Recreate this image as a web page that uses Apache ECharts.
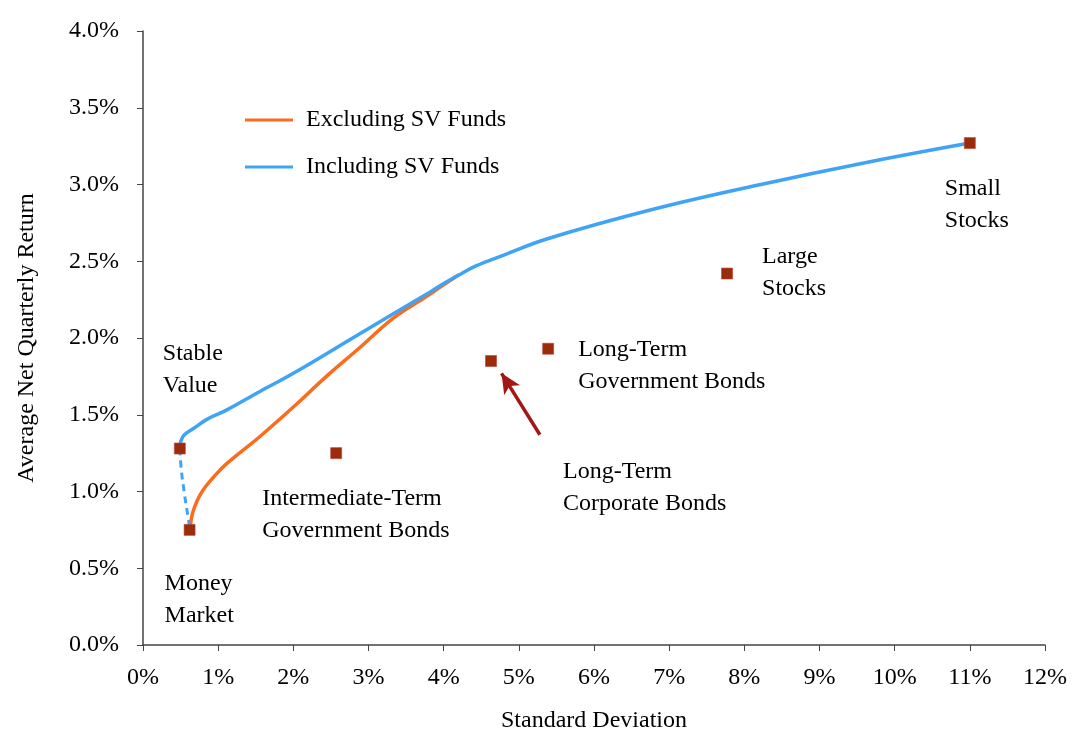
<!DOCTYPE html>
<html>
<head>
<meta charset="utf-8">
<script src="https://cdn.jsdelivr.net/npm/echarts@6/dist/echarts.min.js"></script>
<style>
  html, body { margin: 0; padding: 0; background: #fff; }
  #chart { width: 1072px; height: 740px; }
</style>
</head>
<body>
<div id="chart"></div>
<script>
// asset classes: [std dev %, avg net quarterly return %]
var assetNames = ['Small\nStocks', 'Large\nStocks', 'Long-Term\nGovernment Bonds', 'Long-Term\nCorporate Bonds',
                  'Intermediate-Term\nGovernment Bonds', 'Stable\nValue', 'Money\nMarket'];
var assetPoints = [[11.0, 3.27], [7.77, 2.42], [5.39, 1.93], [4.63, 1.85], [2.57, 1.25], [0.49, 1.28], [0.62, 0.75]];

// frontier excluding stable value funds
var frontierExcl = [[0.63, 0.78], [0.66, 0.86], [0.72, 0.94], [0.8, 1.01], [0.95, 1.1], [1.11, 1.18],
                    [1.56, 1.36], [2.0, 1.55], [2.44, 1.75], [2.89, 1.94], [3.33, 2.13], [3.77, 2.27],
                    [3.95, 2.33], [4.2, 2.41]];
// frontier including stable value funds
var frontierIncl = [[0.49, 1.29], [0.505, 1.33], [0.55, 1.37], [0.67, 1.41], [0.85, 1.47], [1.11, 1.53],
                    [1.55, 1.65], [2.0, 1.77], [2.89, 2.03], [3.77, 2.285], [3.95, 2.34], [4.2, 2.41],
                    [4.43, 2.47], [4.8, 2.54], [5.37, 2.645], [6.8, 2.84], [8.22, 3.0], [9.64, 3.145], [11.0, 3.27]];
// dashed piece between stable value and money market
var svToMm = [[0.49, 1.28], [0.51, 1.14], [0.55, 0.99], [0.6, 0.83], [0.62, 0.77]];

var serif = 'Liberation Serif';
var labelOffsets = [[-25, 62], [35, -1], [30, 17], [72, 127], [-74, 62], [-17, -79], [-25, 70]];

var chart = echarts.init(document.getElementById('chart'));
chart.setOption({
  animation: false,
  textStyle: { fontFamily: serif },
  grid: { left: 143, right: 27, top: 31, bottom: 95 },
  legend: {
    orient: 'vertical', left: 240, top: 103, itemGap: 23,
    itemWidth: 48, itemHeight: 3, icon: 'rect',
    textStyle: { fontFamily: serif, fontSize: 24, color: '#000', padding: [0, 0, 0, 8] },
    data: ['Excluding SV Funds', 'Including SV Funds']
  },
  xAxis: {
    type: 'value', min: 0, max: 12, interval: 1,
    name: 'Standard Deviation', nameLocation: 'middle', nameGap: 64,
    nameTextStyle: { fontFamily: serif, fontSize: 24, color: '#000' },
    axisLine: { lineStyle: { color: '#444', width: 1.5 } },
    axisTick: { inside: false, length: 6, lineStyle: { color: '#444' } },
    axisLabel: { formatter: '{value}%', fontFamily: serif, fontSize: 24, color: '#000', margin: 21 },
    splitLine: { show: false }
  },
  yAxis: {
    type: 'value', min: 0, max: 4, interval: 0.5,
    name: 'Average Net Quarterly Return', nameLocation: 'middle', nameGap: 104,
    nameTextStyle: { fontFamily: serif, fontSize: 24, color: '#000' },
    axisLine: { show: true, lineStyle: { color: '#444', width: 1.5 } },
    axisTick: { show: true, length: 6, lineStyle: { color: '#444' } },
    axisLabel: { formatter: function (v) { return v.toFixed(1) + '%'; }, fontFamily: serif, fontSize: 24, color: '#000', margin: 24 },
    splitLine: { show: false }
  },
  series: [
    {
      name: 'Excluding SV Funds', type: 'line', data: frontierExcl, smooth: 0.4,
      showSymbol: false, color: '#fb6d1c', lineStyle: { width: 3.5, color: '#fb6d1c' }, z: 2
    },
    {
      name: 'Including SV Funds', type: 'line', data: frontierIncl, smooth: 0.4,
      showSymbol: false, color: '#3fa3f6', lineStyle: { width: 3.5, color: '#3fa3f6' }, z: 3
    },
    {
      name: 'sv-mm', type: 'line', data: svToMm, smooth: 0.4, showSymbol: false,
      lineStyle: { width: 3, color: '#3fa3f6', type: [7, 5] }, z: 3
    },
    {
      name: 'assets', type: 'scatter', symbol: 'rect', symbolSize: 11, z: 5,
      itemStyle: { color: '#9a2c0a', borderColor: '#b8403a', borderWidth: 0.6, opacity: 1 },
      data: assetPoints.map(function (p, i) {
        return {
          value: p,
          label: {
            show: true, formatter: assetNames[i], align: 'left', position: 'inside',
            offset: labelOffsets[i], fontFamily: serif, fontSize: 24, lineHeight: 32,
            color: '#000', opacity: 1, textBorderWidth: 0
          }
        };
      }),
      markLine: {
        silent: true, symbol: ['none', 'arrow'], symbolSize: [14, 20],
        lineStyle: { color: '#a31717', width: 3.5, type: 'solid' },
        label: { show: false },
        data: [[{ coord: [5.28, 1.37] }, { coord: [4.77, 1.77] }]]
      }
    }
  ]
});
</script>
</body>
</html>
